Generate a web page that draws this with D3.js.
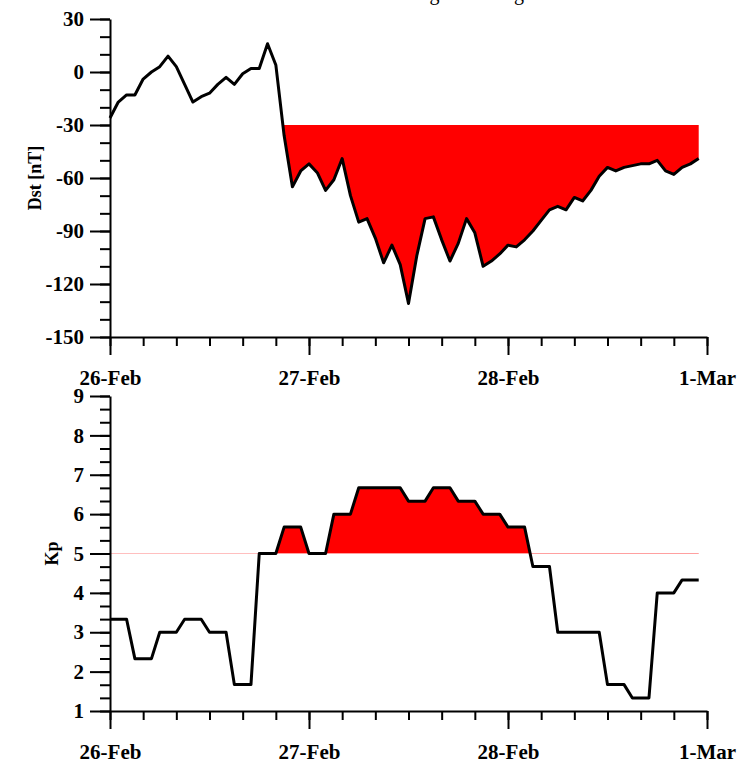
<!DOCTYPE html>
<html>
<head>
<meta charset="utf-8">
<script src="https://cdn.jsdelivr.net/npm/d3@7"></script>
<style>
  body { margin: 0; background: #fff; }
  svg text { font-family: "Liberation Serif", "Times New Roman", serif; }
</style>
</head>
<body>
<svg id="chart"></svg>
<script>
// hourly Dst, 26-Feb 00 UT .. 28-Feb 23 UT
var dst = [-26, -17, -13, -13, -4, 0, 3, 9, 3, -7, -17, -14,
	-12, -7, -3, -7, -1, 2, 2, 16, 4, -36, -65, -56,
	-52, -57, -67, -61, -49, -70, -85, -83, -94, -108, -98, -109,
	-131, -104, -83, -82, -95, -107, -97, -83, -91, -110, -107, -103,
	-98, -99, -95, -90, -84, -78, -76, -78, -71, -73, -67, -59,
	-54, -56, -54, -53, -52, -52, -50, -56, -58, -54, -52, -49]

// 3-hourly Kp
var kp3h = [3.33, 2.33, 3.0, 3.33, 3.0, 1.67, 5.0, 5.67,
	5.0, 6.0, 6.67, 6.67, 6.33, 6.67, 6.33, 6.0,
	5.67, 4.67, 3.0, 3.0, 1.67, 1.33, 4.0, 4.33]

var dayLabels = ['26-Feb', '27-Feb', '28-Feb', '1-Mar']
var dayHours = [0, 24, 48, 72]
var dstTicks = [30, 0, -30, -60, -90, -120, -150]
var kpTicks = [1, 2, 3, 4, 5, 6, 7, 8, 9]
var dstLimit = -30
var kpLimit = 5
var stormStart = 20 // hour from which the thresholds are shaded

// Kp plotted hourly: each 3-hour value held for three hours
var kp = []
kp3h.forEach(v => { kp.push(v, v, v) })

var width = 737, height = 767
var svg = d3.select('#chart').attr('width', width).attr('height', height)

var x = d3.scaleLinear().domain([0, 72]).range([110, 707])
var yDst = d3.scaleLinear().domain([-150, 30]).range([337, 19])
var yKp = d3.scaleLinear().domain([1, 9]).range([711, 396])

var font = '"Liberation Serif", "Times New Roman", serif'

// title (mostly off the top of the picture, as in the original)
svg.append('text')
	.attr('x', 309)
	.attr('y', 0)
	.attr('font-size', 20)
	.text('Variation during the strong storm')

function styleAxis(g) {
	g.selectAll('path, line').attr('stroke', '#000').attr('stroke-width', 2)
	g.selectAll('text')
		.attr('font-family', font)
		.attr('font-weight', 'bold')
		.attr('font-size', 21)
		.attr('fill', '#000')
}

function drawXAxis(yPos) {
	svg.append('g')
		.attr('transform', 'translate(0,' + yPos + ')')
		.call(d3.axisBottom(x).tickValues(d3.range(0, 73, 4)).tickSize(9).tickSizeOuter(0).tickFormat(''))
		.call(styleAxis)
	svg.append('g')
		.attr('transform', 'translate(0,' + yPos + ')')
		.call(d3.axisBottom(x).tickValues(dayHours).tickSize(18).tickSizeOuter(0).tickPadding(15)
			.tickFormat((d, i) => dayLabels[i]))
		.call(styleAxis)
		.call(g => g.select('.domain').remove())
}

function drawYAxis(scale, minor, major, label, labelX) {
	svg.append('g')
		.attr('transform', 'translate(110,0)')
		.call(d3.axisLeft(scale).tickValues(minor).tickSize(10).tickSizeOuter(0).tickFormat(''))
		.call(styleAxis)
	svg.append('g')
		.attr('transform', 'translate(110,0)')
		.call(d3.axisLeft(scale).tickValues(major).tickSize(20).tickSizeOuter(0).tickPadding(6)
			.tickFormat(d => String(d)))
		.call(styleAxis)
		.call(g => g.select('.domain').remove())
	var r = scale.range()
	svg.append('text')
		.attr('transform', 'translate(' + labelX + ',' + (r[0] + r[1]) / 2 + ') rotate(-90)')
		.attr('text-anchor', 'middle')
		.attr('font-weight', 'bold')
		.attr('font-size', 18)
		.text(label)
}

// ---- Dst panel ----
svg.append('clipPath').attr('id', 'clipDst')
	.append('rect')
	.attr('x', x(0)).attr('y', yDst(dstLimit))
	.attr('width', x(72) - x(0)).attr('height', yDst(-150) - yDst(dstLimit))

svg.append('path')
	.datum(dst)
	.attr('clip-path', 'url(#clipDst)')
	.attr('fill', '#ff0000')
	.attr('d', d3.area()
		.x((d, i) => x(i))
		.y0(yDst(dstLimit))
		.y1(d => yDst(d)))

svg.append('path')
	.datum(dst)
	.attr('fill', 'none')
	.attr('stroke', '#000')
	.attr('stroke-width', 3)
	.attr('stroke-linejoin', 'round')
	.attr('d', d3.line().x((d, i) => x(i)).y(d => yDst(d)))

drawYAxis(yDst, d3.range(-150, 31, 10), dstTicks, 'Dst [nT]', 41)
drawXAxis(yDst(-150))

// ---- Kp panel ----
svg.append('line')
	.attr('x1', x(stormStart)).attr('x2', x(71))
	.attr('y1', yKp(kpLimit)).attr('y2', yKp(kpLimit))
	.attr('stroke', '#ffd6d6').attr('stroke-width', 1.2)

svg.append('clipPath').attr('id', 'clipKp')
	.append('rect')
	.attr('x', x(0)).attr('y', yKp(9))
	.attr('width', x(72) - x(0)).attr('height', yKp(kpLimit) - yKp(9))

svg.append('path')
	.datum(kp)
	.attr('clip-path', 'url(#clipKp)')
	.attr('fill', '#ff0000')
	.attr('d', d3.area()
		.x((d, i) => x(i))
		.y0(yKp(kpLimit))
		.y1(d => yKp(d)))

svg.append('path')
	.datum(kp)
	.attr('fill', 'none')
	.attr('stroke', '#000')
	.attr('stroke-width', 3)
	.attr('stroke-linejoin', 'round')
	.attr('d', d3.line().x((d, i) => x(i)).y(d => yKp(d)))

drawYAxis(yKp, d3.range(1, 9.01, 1 / 3), kpTicks, 'Kp', 58)
drawXAxis(yKp(1))
</script>
</body>
</html>
